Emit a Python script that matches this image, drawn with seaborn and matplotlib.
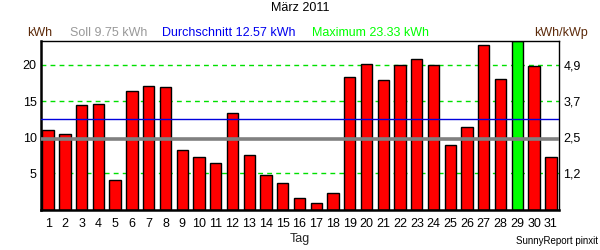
import matplotlib
matplotlib.use("Agg")
import matplotlib.pyplot as plt
import seaborn as sns
import pandas as pd
import numpy as np

days = [str(d) for d in range(1, 32)]
kwh = [11.05, 10.50, 14.49, 14.62, 4.03, 16.41, 17.10, 16.96, 8.16, 7.19,
       6.37, 13.39, 7.47, 4.72, 3.61, 1.55, 0.86, 2.24, 18.34, 20.13,
       17.92, 19.99, 20.81, 20.04, 8.98, 11.46, 22.74, 18.06, 23.33, 19.85, 7.19]
soll = 9.75
mean_val = 12.57
max_val = 23.33
left_ticks = [5, 10, 15, 20]
grid_lines = [5, 15, 20]
right_tick_labels = ["1,2", "2,5", "3,7", "4,9"]

sns.set_theme(style="white")
plt.rcParams['font.family'] = ['Liberation Sans', 'DejaVu Sans']

df = pd.DataFrame({"Tag": days, "kWh": kwh})
colors = ["#00ff00" if v == max(kwh) else "#ff0000" for v in kwh]

fig = plt.figure(figsize=(6, 2.5), dpi=100)
ax = fig.add_axes([0.068, 0.162, 0.864, 0.675])

for y in grid_lines:
    ax.axhline(y, color="#00e000", lw=1, ls=(0, (3.5, 3)), zorder=0)

sns.barplot(data=df, x="Tag", y="kWh", hue="Tag", palette=colors, legend=False,
            width=0.68, edgecolor="black", linewidth=1, saturation=1, ax=ax, zorder=2)

ax.axhline(soll, color="#808080", lw=2.6, zorder=3)
ax.axhline(mean_val, color="#0000dd", lw=1, zorder=3)

ax.set_xlim(-0.44, 30.5)
ax.set_ylim(0, max_val)
ax.set_yticks(left_ticks)
ax.set_yticklabels([str(t) for t in left_ticks])
ax.tick_params(axis="both", length=0, labelsize=9, colors="black")
ax.tick_params(axis="x", pad=6)
ax.tick_params(axis="y", pad=3)
ax.set_xlabel("Tag", fontsize=9, labelpad=2)
ax.set_ylabel("")
for s in ["top", "right"]:
    ax.spines[s].set_linewidth(1)
    ax.spines[s].set_color("black")
for s in ["left", "bottom"]:
    ax.spines[s].set_linewidth(1.8)
    ax.spines[s].set_color("black")

ax2 = ax.twinx()
ax2.set_ylim(0, max_val)
ax2.set_yticks(left_ticks)
ax2.set_yticklabels(right_tick_labels)
ax2.tick_params(axis="y", length=0, labelsize=9, colors="black", pad=3)
ax2.grid(False)
for s in ax2.spines.values():
    s.set_visible(False)

fig.text(0.5, 0.968, "März 2011", ha="center", va="center", fontsize=9, color="black")
fig.text(0.045, 0.868, "kWh", ha="left", va="center", fontsize=9, color="#5c2a0a")
fig.text(0.117, 0.868, "Soll 9.75 kWh", ha="left", va="center", fontsize=9, color="#999999")
fig.text(0.27, 0.868, "Durchschnitt 12.57 kWh", ha="left", va="center", fontsize=9, color="#0000ee")
fig.text(0.52, 0.868, "Maximum 23.33 kWh", ha="left", va="center", fontsize=9, color="#00ff00")
fig.text(0.98, 0.868, "kWh/kWp", ha="right", va="center", fontsize=9, color="#5c2a0a")
fig.text(0.997, 0.035, "SunnyReport pinxit", ha="right", va="center", fontsize=7, color="black")

fig.savefig("out.png", dpi=100)
